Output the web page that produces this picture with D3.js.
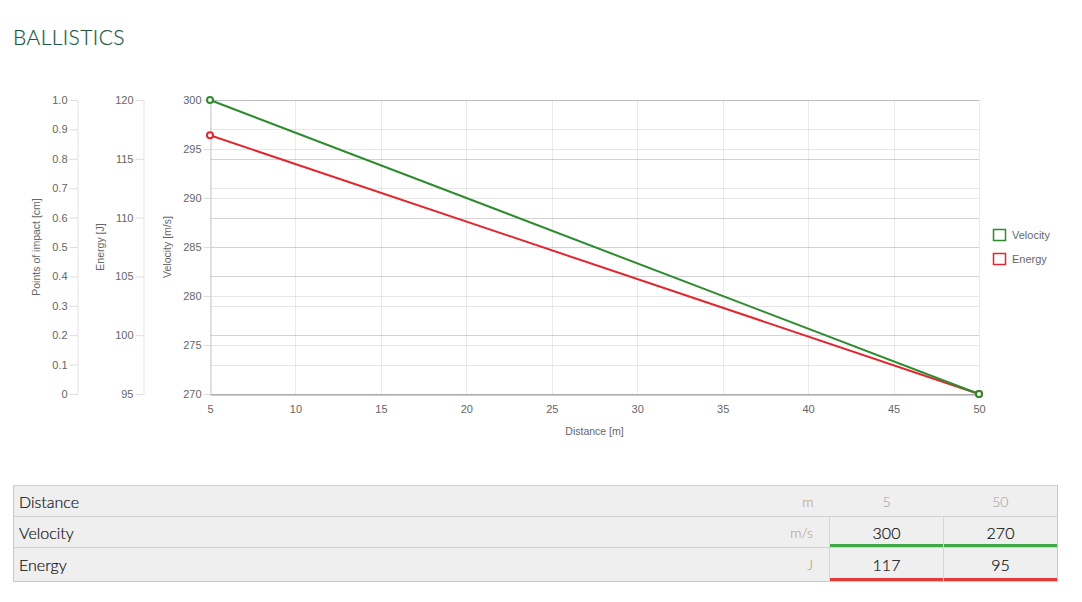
<!DOCTYPE html>
<html>
<head>
<meta charset="utf-8">
<script src="https://cdn.jsdelivr.net/npm/d3@7"></script>
<style>
  body { margin: 0; background: #fff; font-family: Lato, "Open Sans", sans-serif; }
  #wrap { position: relative; width: 1082px; height: 602px; }
  #title { position: absolute; left: 13px; top: 24px; font-size: 21px; font-weight: 300; color: #1d5a40; font-family: Lato, sans-serif; letter-spacing: 0.4px; -webkit-text-stroke: 0.2px #1d5a40; }
  svg { position: absolute; left: 0; top: 0; }
  svg text { font-family: "Liberation Sans", Arial, sans-serif; fill: #666; }
  table { position: absolute; left: 13px; top: 485px; width: 1045px; border-collapse: collapse; background: #efefef; border: 1px solid #c8c8c8; font-family: Lato, sans-serif; font-weight: 300; }
  td { padding: 0 5px; border-top: 1px solid #d0d0d0; font-size: 16px; color: #111; -webkit-text-stroke: 0.2px #111; }
  td.unit { text-align: right; color: #b0915f; font-size: 14px; padding-right: 16px; -webkit-text-stroke: 0; }
  td.val { text-align: center; width: 103px; border-left: 1px solid #d6d6d6; }
  tr.head td.val { color: #999; font-size: 14px; border-left: none; -webkit-text-stroke: 0; }
</style>
</head>
<body>
<div id="wrap">
  <div id="title">BALLISTICS</div>
  <div id="chart"></div>
</div>
<script>
const distances = [5, 50];
const velocity = [300, 270];
const energy = [117, 95];
const xTicks = [5, 10, 15, 20, 25, 30, 35, 40, 45, 50];
const velTicks = [270, 275, 280, 285, 290, 295, 300];
const enTicks = [95, 100, 105, 110, 115, 120];
const impTicks = [0, 0.1, 0.2, 0.3, 0.4, 0.5, 0.6, 0.7, 0.8, 0.9, 1.0];
const tableRows = [
  { name: "Distance", unit: "m", values: distances, color: null },
  { name: "Velocity", unit: "m/s", values: velocity, color: "#3daa47" },
  { name: "Energy", unit: "J", values: energy, color: "#e03c3c" }
];

const width = 1082, height = 602;
const plot = { left: 210, right: 979, top: 100, bottom: 394 };

let svg = d3.select("#chart").append("svg")
    .attr("width", width)
    .attr("height", height);

let x = d3.scaleLinear().domain([5, 50]).range([plot.left, plot.right]);
let yVel = d3.scaleLinear().domain([270, 300]).range([plot.bottom, plot.top]);
let yEn = d3.scaleLinear().domain([95, 120]).range([plot.bottom, plot.top]);
let yImp = d3.scaleLinear().domain([0, 1]).range([plot.bottom, plot.top]);

// grid lines, one set per y axis (overlaps come out darker)
let grid = svg.append("g");
[[yImp, impTicks], [yEn, enTicks], [yVel, velTicks]].forEach(function(p) {
    grid.append("g").selectAll("line").data(p[1]).enter().append("line")
        .attr("x1", plot.left).attr("x2", plot.right)
        .attr("y1", d => Math.round(p[0](d)) + 0.5)
        .attr("y2", d => Math.round(p[0](d)) + 0.5)
        .attr("stroke", "rgba(0,0,0,0.09)");
});
grid.append("g").selectAll("line").data(xTicks).enter().append("line")
    .attr("y1", plot.top).attr("y2", plot.bottom)
    .attr("x1", d => Math.round(x(d)) + 0.5)
    .attr("x2", d => Math.round(x(d)) + 0.5)
    .attr("stroke", "rgba(0,0,0,0.08)");

function styleAxis(g, lineColor) {
    g.selectAll(".domain").attr("stroke", lineColor);
    g.selectAll(".tick line").attr("stroke", "#ddd");
    g.selectAll(".tick text").attr("fill", "#666").style("font-size", "11px")
        .style("font-family", "'Liberation Sans', Arial, sans-serif");
}

let xAxis = svg.append("g")
    .attr("transform", `translate(0, ${plot.bottom + 0.5})`)
    .call(d3.axisBottom(x).tickValues(xTicks).tickSize(0).tickPadding(11).tickSizeOuter(0));
styleAxis(xAxis, "#999");

let velAxis = svg.append("g")
    .attr("transform", `translate(${plot.left + 0.5}, 0)`)
    .call(d3.axisLeft(yVel).tickValues(velTicks).tickSize(7).tickPadding(2).tickSizeOuter(0));
styleAxis(velAxis, "#ccc");

let enAxis = svg.append("g")
    .attr("transform", `translate(143.5, 0)`)
    .call(d3.axisLeft(yEn).tickValues(enTicks).tickSize(8).tickPadding(2).tickSizeOuter(0));
styleAxis(enAxis, "#e2e2e2");

let impAxis = svg.append("g")
    .attr("transform", `translate(77.5, 0)`)
    .call(d3.axisLeft(yImp).tickValues(impTicks).tickSize(8).tickPadding(2).tickSizeOuter(0)
        .tickFormat(d => d === 0 ? "0" : d.toFixed(1)));
styleAxis(impAxis, "#e2e2e2");

// axis titles
const midY = (plot.top + plot.bottom) / 2;
[["Points of impact [cm]", 40], ["Energy [J]", 104], ["Velocity [m/s]", 171]].forEach(function(t) {
    svg.append("text")
        .attr("transform", `translate(${t[1]}, ${midY}) rotate(-90)`)
        .style("text-anchor", "middle")
        .style("font-size", "10.5px")
        .text(t[0]);
});
svg.append("text")
    .attr("x", (plot.left + plot.right) / 2)
    .attr("y", 435)
    .style("text-anchor", "middle")
    .style("font-size", "10.5px")
    .text("Distance [m]");

// series
const series = [
    { name: "Velocity", values: velocity, scale: yVel, color: "#2e8b2e" },
    { name: "Energy", values: energy, scale: yEn, color: "#e3262e" }
];

series.slice().reverse().forEach(function(s) {
    let pts = distances.map((d, i) => [x(d), s.scale(s.values[i])]);
    svg.append("path")
        .attr("d", d3.line()(pts))
        .attr("fill", "none")
        .attr("stroke", s.color)
        .attr("stroke-width", 2);
    svg.append("g").selectAll("circle").data(pts).enter().append("circle")
        .attr("cx", d => d[0]).attr("cy", d => d[1]).attr("r", 3)
        .attr("fill", "#fff")
        .attr("stroke", s.color)
        .attr("stroke-width", 2);
});

// legend
let legend = svg.append("g").attr("transform", "translate(993, 229)");
series.forEach(function(s, i) {
    let g = legend.append("g").attr("transform", `translate(0, ${i * 24})`);
    g.append("rect")
        .attr("x", 0.5).attr("y", 0.5).attr("width", 12).attr("height", 11)
        .attr("fill", "none").attr("stroke", s.color).attr("stroke-width", 1.5);
    g.append("text")
        .attr("x", 19).attr("y", 9.5)
        .style("font-size", "11px")
        .text(s.name);
});

// table
let table = d3.select("#wrap").append("table");
let rows = table.selectAll("tr").data(tableRows).enter().append("tr")
    .attr("class", (d, i) => i === 0 ? "head" : null)
    .style("height", (d, i) => i === 2 ? "34px" : "31px");
rows.append("td").text(d => d.name);
rows.append("td").attr("class", "unit").text(d => d.unit);
rows.each(function(d) {
    let r = d3.select(this);
    d.values.forEach(function(v) {
        r.append("td").attr("class", "val")
            .style("box-shadow", d.color ? `inset 0 -3px 0 ${d.color}` : null)
            .text(v);
    });
});
</script>
</body>
</html>
